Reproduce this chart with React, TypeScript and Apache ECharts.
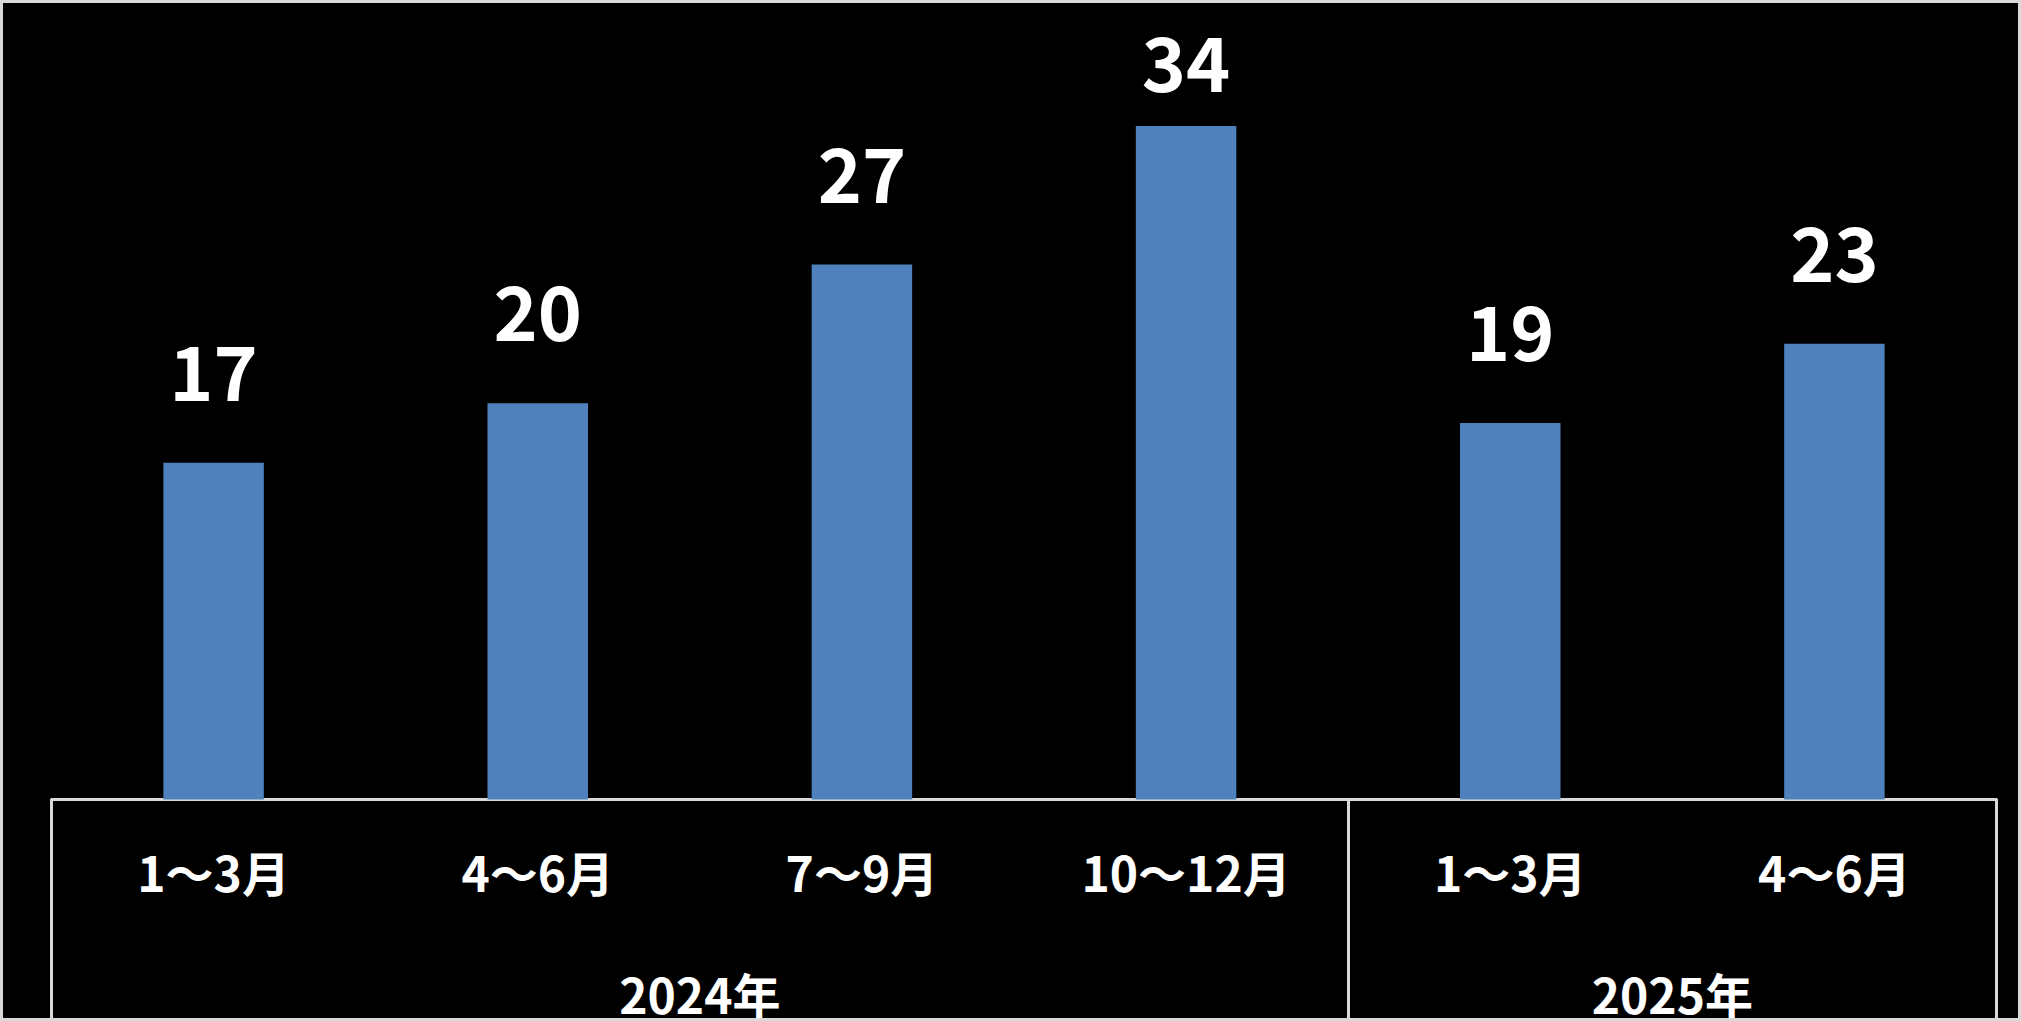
import React, { useEffect, useRef } from "react";
import * as echarts from "echarts";

const categories = ["1～3月", "4～6月", "7～9月", "10～12月", "1～3月", "4～6月"];
const values = [17, 20, 27, 34, 19, 23];
const years = ["2024年", "2025年"];
const yearSpans = [4, 2];

const FONT = '"Noto Sans CJK JP", "Noto Sans", sans-serif';
const LINE = "#d9d9d9";

export default function App() {
  const ref = useRef<HTMLDivElement>(null);

  useEffect(() => {
    if (!ref.current) return;
    const chart = echarts.init(ref.current, null, { renderer: "svg" });

    // group boundaries and centres derived from spans
    const starts: number[] = [];
    const centres: number[] = [];
    let acc = 0;
    yearSpans.forEach((s) => {
      starts.push(acc);
      centres.push(acc + s / 2);
      acc += s;
    });
    const total = acc;

    // labels that would rise above this line are pushed down (like Excel's clamp)
    const LABEL_TOP = 19;

    chart.setOption({
      animation: false,
      backgroundColor: "#000000",
      grid: { left: 48.5, right: 21.5, top: 4, bottom: 218.5, containLabel: false },
      xAxis: [
        {
          type: "category",
          data: categories,
          position: "bottom",
          axisLine: { show: true, lineStyle: { color: LINE, width: 3 } },
          axisTick: {
            show: true,
            length: 240,
            interval: (i: number) => starts.indexOf(i) >= 0,
            lineStyle: { color: LINE, width: 3 },
          },
          axisLabel: {
            color: "#ffffff",
            fontSize: 48,
            fontWeight: "bold",
            fontFamily: FONT,
            margin: 47,
            interval: 0,
          },
          splitLine: { show: false },
        },
        {
          type: "value",
          position: "bottom",
          min: 0,
          max: total,
          interval: 0.5,
          axisLine: { show: false },
          axisTick: { show: false },
          splitLine: { show: false },
          axisLabel: {
            show: true,
            color: "#ffffff",
            fontSize: 48,
            fontWeight: "bold",
            fontFamily: FONT,
            margin: 169,
            showMinLabel: true,
            showMaxLabel: true,
            formatter: (v: number) => {
              const k = centres.indexOf(v);
              return k >= 0 ? years[k] : "";
            },
          },
        },
      ],
      yAxis: {
        type: "value",
        min: 0,
        max: 40,
        show: false,
        splitLine: { show: false },
      },
      series: [
        {
          type: "bar",
          xAxisIndex: 0,
          data: values,
          barWidth: "31%",
          itemStyle: { color: "#4f81bd" },
          label: {
            show: true,
            position: "top",
            distance: 57,
            color: "#ffffff",
            fontSize: 75,
            fontWeight: "bold",
            fontFamily: FONT,
          },
          labelLayout: (p: any) => {
            const r = p.labelRect;
            if (r.y < LABEL_TOP) {
              return { dy: LABEL_TOP - r.y };
            }
            return {};
          },
        },
      ],
    });

    return () => chart.dispose();
  }, []);

  return (
    <div
      style={{
        position: "absolute",
        left: 0,
        top: 0,
        width: 2021,
        height: 1021,
        boxSizing: "border-box",
        border: `3px solid ${LINE}`,
        background: "#000000",
        overflow: "hidden",
      }}
    >
      <div ref={ref} style={{ width: 2015, height: 1015 }} />
    </div>
  );
}
